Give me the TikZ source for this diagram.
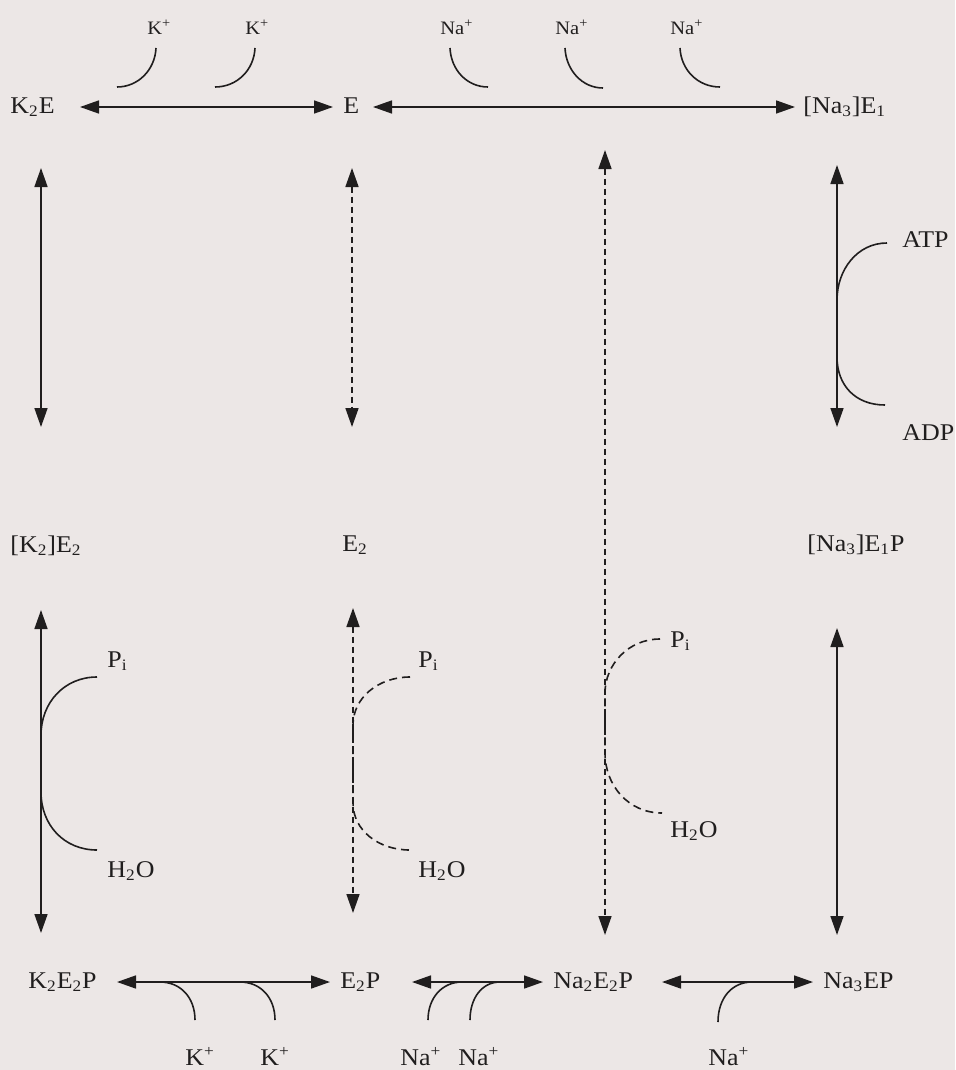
\documentclass[tikz,border=0pt]{standalone}
\usepackage{fontspec}
\setmainfont{Liberation Serif}[FakeStretch=1.08]
\usetikzlibrary{arrows.meta, calc}
\definecolor{paper}{RGB}{236,231,230}
\definecolor{ink}{RGB}{32,30,30}

\begin{document}
\begin{tikzpicture}[x=0.5pt, y=-0.5pt,
  sp/.style={inner sep=0pt, anchor=base west, text=ink, font=\fontsize{12}{14}\selectfont},
  ion/.style={sp, font=\fontsize{9.5}{11}\selectfont},
  dbl/.style={{Triangle[length=9.5pt,width=6.5pt]}-{Triangle[length=9.5pt,width=6.5pt]}, draw=ink, line width=0.8pt},
  ddbl/.style={dbl, dash pattern=on 3pt off 2pt},
  bnd/.style={draw=ink, line width=0.8pt},
  dbnd/.style={bnd, dash pattern=on 4pt off 2.5pt}
]
  \fill[paper] (0,0) rectangle (955,1070);
  \useasboundingbox (0,0) rectangle (955,1070);

  % enzyme states
  \node[sp] (K2E)    at (10,113)  {K\textsubscript{2}E};
  \node[sp] (E)      at (343,113) {E};
  \node[sp] (Na3E1)  at (803,113) {[Na\textsubscript{3}]E\textsubscript{1}};
  \node[sp] (K2E2)   at (10,552)  {[K\textsubscript{2}]E\textsubscript{2}};
  \node[sp] (E2)     at (342,551) {E\textsubscript{2}};
  \node[sp] (Na3E1P) at (807,551) {[Na\textsubscript{3}]E\textsubscript{1}P};
  \node[sp] (K2E2P)  at (28,988)  {K\textsubscript{2}E\textsubscript{2}P};
  \node[sp] (E2P)    at (340,988) {E\textsubscript{2}P};
  \node[sp] (Na2E2P) at (553,988) {Na\textsubscript{2}E\textsubscript{2}P};
  \node[sp] (Na3EP)  at (823,988) {Na\textsubscript{3}EP};

  % ions
  \node[ion] (kTopA)  at (147,35)  {K\textsuperscript{+}};
  \node[ion] (kTopB)  at (245,35)  {K\textsuperscript{+}};
  \node[ion] (naTopA) at (440,35)  {Na\textsuperscript{+}};
  \node[ion] (naTopB) at (555,35)  {Na\textsuperscript{+}};
  \node[ion] (naTopC) at (670,35)  {Na\textsuperscript{+}};
  \node[sp]  (kBotA)  at (185,1065) {K\textsuperscript{+}};
  \node[sp]  (kBotB)  at (260,1065) {K\textsuperscript{+}};
  \node[sp]  (naBotA) at (400,1065) {Na\textsuperscript{+}};
  \node[sp]  (naBotB) at (458,1065) {Na\textsuperscript{+}};
  \node[sp]  (naBotC) at (708,1065) {Na\textsuperscript{+}};

  % phosphate, water, nucleotides
  \node[sp] (piL) at (107,667) {P\textsubscript{i}};
  \node[sp] (piM) at (418,667) {P\textsubscript{i}};
  \node[sp] (piR) at (670,647) {P\textsubscript{i}};
  \node[sp] (wL)  at (107,877) {H\textsubscript{2}O};
  \node[sp] (wM)  at (418,877) {H\textsubscript{2}O};
  \node[sp] (wR)  at (670,837) {H\textsubscript{2}O};
  \node[sp] (atp) at (902,247) {ATP};
  \node[sp] (adp) at (902,440) {ADP};

  % transitions
  \draw[dbl]  ($(K2E.base west)+(70,-6)$)    -- ($(E.base west)+(-10,-6)$);
  \draw[dbl]  ($(E.base west)+(30,-6)$)      -- ($(Na3E1.base west)+(-8,-6)$);
  \draw[dbl]  ($(K2E.base west)+(31,55)$)    -- ($(K2E2.base west)+(31,-125)$);
  \draw[ddbl] ($(E.base west)+(9,55)$)       -- ($(E2.base west)+(10,-124)$);
  \draw[ddbl] ($(Na3E1.base west)+(-198,37)$) -- ($(Na2E2P.base west)+(52,-53)$);
  \draw[dbl]  ($(Na3E1.base west)+(34,52)$)  -- ($(Na3E1P.base west)+(30,-124)$);
  \draw[dbl]  ($(K2E2.base west)+(31,58)$)   -- ($(K2E2P.base west)+(13,-55)$);
  \draw[ddbl] ($(E2.base west)+(11,57)$)     -- ($(E2P.base west)+(13,-75)$);
  \draw[dbl]  ($(Na3E1P.base west)+(30,77)$) -- ($(Na3EP.base west)+(14,-53)$);
  \draw[dbl]  ($(K2E2P.base west)+(89,-6)$)  -- ($(E2P.base west)+(-10,-6)$);
  \draw[dbl]  ($(E2P.base west)+(72,-6)$)    -- ($(Na2E2P.base west)+(-10,-6)$);
  \draw[dbl]  ($(Na2E2P.base west)+(109,-6)$) -- ($(Na3EP.base west)+(-10,-6)$);

  % ion binding
  \draw[bnd] (156,48) .. controls (155,70) and (138,87) .. (117,87);
  \draw[bnd] (255,48) .. controls (254,70) and (237,87) .. (215,87);
  \draw[bnd] (450,48) .. controls (451,70) and (467,87) .. (488,87);
  \draw[bnd] (565,48) .. controls (566,70) and (582,88) .. (603,88);
  \draw[bnd] (680,48) .. controls (681,70) and (698,87) .. (720,87);
  \draw[bnd] (160,982) .. controls (181,982) and (195,998) .. (195,1020);
  \draw[bnd] (240,982) .. controls (261,982) and (275,998) .. (275,1020);
  \draw[bnd] (428,1020) .. controls (428,998) and (442,982) .. (462,982);
  \draw[bnd] (470,1020) .. controls (470,998) and (482,982) .. (500,982);
  \draw[bnd] (718,1022) .. controls (718,998) and (732,982) .. (752,982);

  % phosphorylation and hydrolysis
  \draw[bnd]  (97,677) .. controls (64,677) and (41,703) .. (41,735) -- (41,792)
              .. controls (41,825) and (64,850) .. (97,850);
  \draw[dbnd] (410,677) .. controls (378,677) and (353,698) .. (353,725) -- (353,803)
              .. controls (353,830) and (378,850) .. (410,850);
  \draw[dbnd] (660,639) .. controls (628,639) and (605,665) .. (605,693) -- (605,753)
              .. controls (605,785) and (628,813) .. (662,813);
  \draw[bnd]  (887,243) .. controls (857,243) and (837,270) .. (837,300) -- (837,357)
              .. controls (837,385) and (855,405) .. (885,405);
\end{tikzpicture}
\end{document}
